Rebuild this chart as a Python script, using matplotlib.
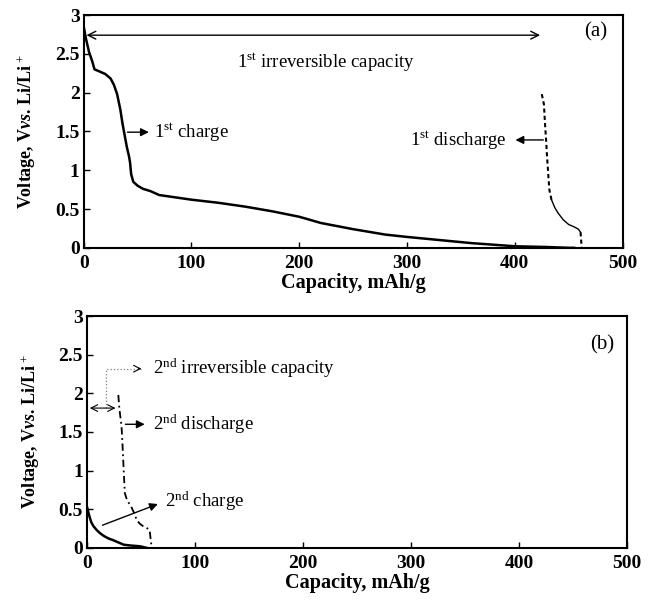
import numpy as np
import matplotlib
matplotlib.use('Agg')
import matplotlib.pyplot as plt

plt.rcParams['font.family'] = ['Liberation Serif', 'DejaVu Serif']
plt.rcParams['mathtext.fontset'] = 'custom'
plt.rcParams['mathtext.rm'] = 'Liberation Serif'
plt.rcParams['mathtext.it'] = 'Liberation Serif:italic:bold'
plt.rcParams['mathtext.bf'] = 'Liberation Serif:bold'

# 1st cycle (panel a)
charge1_cap = [0, 2, 5, 8, 10, 15, 20, 25, 28, 31, 34, 36, 38, 40, 42, 43, 44, 46, 50, 55, 62, 70, 85,
               100, 125, 150, 175, 200, 220, 250, 280, 300, 330, 360, 400, 430, 450, 455]
charge1_v = [2.85, 2.7, 2.52, 2.4, 2.3, 2.27, 2.24, 2.18, 2.1, 1.98, 1.78, 1.6, 1.45, 1.3, 1.18, 1.1, 0.95,
             0.85, 0.8, 0.76, 0.73, 0.68, 0.65, 0.62, 0.58, 0.53, 0.47, 0.4, 0.32, 0.24, 0.17, 0.14,
             0.1, 0.06, 0.02, 0.01, 0.0, 0.0]
discharge1_cap = [425, 427, 428, 429, 430, 432, 434, 437, 440, 445, 450, 455, 459, 461, 462]
discharge1_v = [1.98, 1.85, 1.6, 1.39, 1.15, 0.75, 0.62, 0.52, 0.45, 0.36, 0.3, 0.27, 0.24, 0.2, 0.0]

# 2nd cycle (panel b)
charge2_cap = [0, 2, 4, 6, 9, 12, 16, 20, 24, 29, 34, 40, 49, 55]
charge2_v = [0.53, 0.42, 0.33, 0.28, 0.23, 0.19, 0.15, 0.12, 0.1, 0.07, 0.04, 0.03, 0.02, 0.0]
discharge2_cap = [29, 30, 32, 33, 34, 35, 37, 41, 44, 46, 49, 52, 55, 58, 59, 60]
discharge2_v = [1.98, 1.8, 1.57, 1.3, 1.0, 0.71, 0.62, 0.53, 0.44, 0.36, 0.31, 0.28, 0.26, 0.23, 0.1, 0.0]

x_ticks = [0, 100, 200, 300, 400, 500]
y_ticks = [0, 0.5, 1, 1.5, 2, 2.5, 3]
y_ticklabels = ['0', '0.5', '1', '1.5', '2', '2.5', '3']

fig = plt.figure(figsize=(6.54, 6.0), dpi=100)
ax1 = fig.add_axes([0.128, 0.587, 0.824, 0.388])
ax2 = fig.add_axes([0.133, 0.087, 0.826, 0.386])

ylabel = r'Voltage, V$vs$. Li/Li$^+$'
for ax in (ax1, ax2):
    ax.set_xlim(0, 500)
    ax.set_ylim(0, 3)
    ax.set_xticks(x_ticks)
    ax.set_xticklabels([str(t) for t in x_ticks], fontsize=14, fontweight='bold')
    ax.set_yticks(y_ticks)
    ax.set_yticklabels(y_ticklabels, fontsize=14, fontweight='bold')
    ax.tick_params(direction='in', length=4, width=1)
    ax.tick_params(axis='x', pad=5)
    ax.tick_params(axis='y', pad=3)
    for s in ax.spines.values():
        s.set_linewidth(1.5)
    ax.set_xlabel('Capacity, mAh/g', fontsize=14.5, fontweight='bold', labelpad=1)
    ax.set_ylabel(ylabel, fontsize=13, fontweight='bold', labelpad=12)

# panel (a)
ax1.plot(charge1_cap, charge1_v, color='black', lw=1.8)
# discharge: dashed top, thin ragged middle, dashed drop at the end
ax1.plot(discharge1_cap[:7], discharge1_v[:7], color='black', lw=1.5, ls=(0, (2, 1.5)))
ax1.plot(discharge1_cap[6:14], discharge1_v[6:14], color='black', lw=1.0)
ax1.plot(discharge1_cap[13:], discharge1_v[13:], color='black', lw=1.5, ls=(0, (2, 1.5)))
ax1.annotate('', xy=(0, 2.74), xytext=(426, 2.74),
             arrowprops=dict(arrowstyle='<->', color='black', lw=1.0, mutation_scale=14))
ax1.text(225, 2.39, r'1$^{\rm st}$ irreversible capacity', fontsize=13.5, ha='center', va='center')
ax1.annotate('', xy=(63, 1.49), xytext=(38, 1.49),
             arrowprops=dict(arrowstyle='-|>', color='black', lw=1.0, mutation_scale=12))
ax1.text(65, 1.49, r'1$^{\rm st}$ charge', fontsize=13.5, ha='left', va='center')
ax1.annotate('', xy=(398, 1.39), xytext=(429, 1.39),
             arrowprops=dict(arrowstyle='-|>', color='black', lw=1.0, mutation_scale=12))
ax1.text(392, 1.39, r'1$^{\rm st}$ discharge', fontsize=13.5, ha='right', va='center')
ax1.text(475, 2.78, '(a)', fontsize=15, ha='center', va='center')

# panel (b)
ax2.plot(charge2_cap, charge2_v, color='black', lw=1.8)
ax2.plot(discharge2_cap, discharge2_v, color='black', lw=1.3, ls=(0, (4, 2, 1, 2)))
ax2.annotate('', xy=(0, 1.81), xytext=(29, 1.81),
             arrowprops=dict(arrowstyle='<->', color='black', lw=0.8, mutation_scale=12))
ax2.plot([18, 18, 50], [1.81, 2.32, 2.32], color='gray', lw=0.9, ls=':')
ax2.annotate('', xy=(53, 2.32), xytext=(45, 2.32),
             arrowprops=dict(arrowstyle='->', color='black', lw=0.8, mutation_scale=12))
ax2.text(61, 2.32, r'2$^{\rm nd}$ irreversible capacity', fontsize=13.5, ha='left', va='center')
ax2.annotate('', xy=(56, 1.60), xytext=(33, 1.60),
             arrowprops=dict(arrowstyle='-|>', color='black', lw=1.0, mutation_scale=12))
ax2.text(61, 1.60, r'2$^{\rm nd}$ discharge', fontsize=13.5, ha='left', va='center')
ax2.annotate('', xy=(68, 0.58), xytext=(12, 0.28),
             arrowprops=dict(arrowstyle='-|>', color='black', lw=1.0, mutation_scale=12))
ax2.text(72, 0.6, r'2$^{\rm nd}$ charge', fontsize=13.5, ha='left', va='center')
ax2.text(477, 2.63, '(b)', fontsize=15, ha='center', va='center')

fig.savefig('out.png', dpi=100)
